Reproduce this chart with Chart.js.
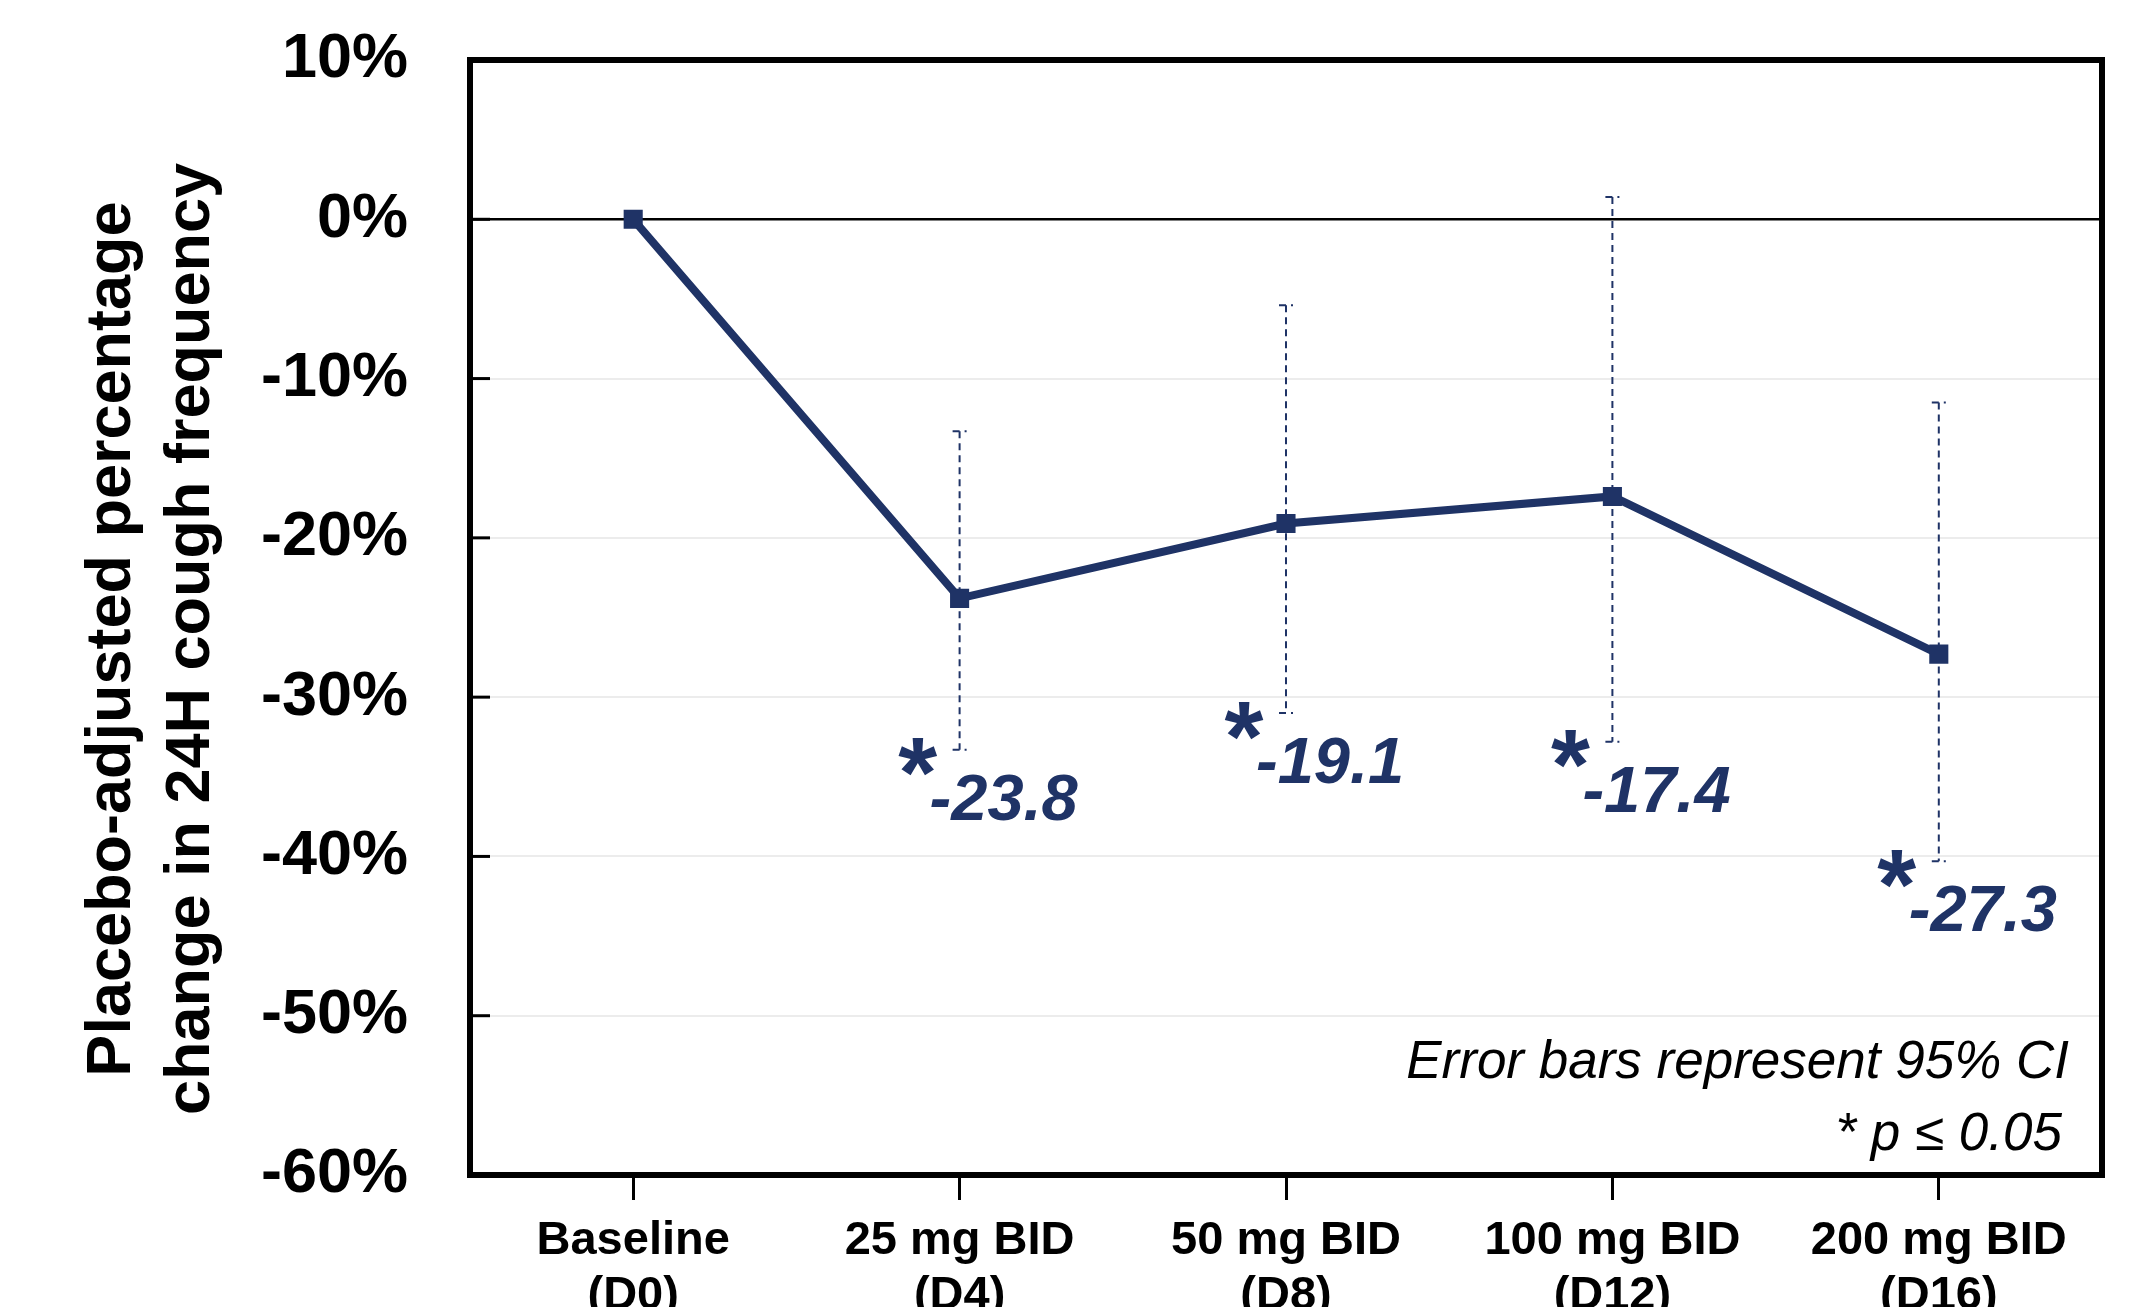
<!DOCTYPE html>
<html>
<head>
<meta charset="utf-8">
<title>Placebo-adjusted cough frequency</title>
<script src="https://cdn.jsdelivr.net/npm/chart.js"></script>
<style>
  body { margin: 0; background: #fff; }
  #wrap { width: 2146px; height: 1307px; }
</style>
</head>
<body>
<div id="wrap"><canvas id="chart"></canvas></div>
<script>
// data
const categories = [["Baseline", "(D0)"], ["25 mg BID", "(D4)"], ["50 mg BID", "(D8)"], ["100 mg BID", "(D12)"], ["200 mg BID", "(D16)"]];
const changePct = [0, -23.8, -19.1, -17.4, -27.3];
const ciLower = [null, -33.3, -31.0, -32.8, -40.3];
const ciUpper = [null, -13.3, -5.4, 1.4, -11.5];
const significant = [false, true, true, true, true];
const yMin = -60, yMax = 10, yStep = 10;
const yTitle = ["Placebo-adjusted percentage", "change in 24H cough frequency"];
const notes = ["Error bars represent 95% CI", "* p \u2264 0.05"];

const NAVY = "#1f3366";
const FONT = "'Liberation Sans', Arial, sans-serif";

const extras = {
  id: "extras",
  beforeDatasetsDraw(chart) {
    const { ctx, scales: { x, y } } = chart;
    ctx.save();
    ctx.strokeStyle = NAVY;
    ctx.lineWidth = 2;
    ctx.setLineDash([7, 5]);
    changePct.forEach((v, i) => {
      if (ciLower[i] == null) return;
      const px = x.getPixelForValue(i);
      const top = y.getPixelForValue(ciUpper[i]);
      const bot = y.getPixelForValue(ciLower[i]);
      ctx.beginPath();
      ctx.moveTo(px, top); ctx.lineTo(px, bot);
      ctx.moveTo(px - 7, top); ctx.lineTo(px + 7, top);
      ctx.moveTo(px - 7, bot); ctx.lineTo(px + 7, bot);
      ctx.stroke();
    });
    ctx.restore();
  },
  afterDraw(chart) {
    const { ctx, chartArea: a, scales: { x, y } } = chart;
    ctx.save();

    // y axis title, two rotated lines
    ctx.fillStyle = "#000";
    ctx.font = "bold 63px " + FONT;
    ctx.textAlign = "center";
    ctx.textBaseline = "middle";
    yTitle.forEach((line, i) => {
      ctx.save();
      ctx.translate(113 + i * 79, 639);
      ctx.rotate(-Math.PI / 2);
      ctx.fillText(line, 0, 0);
      ctx.restore();
    });

    // value labels with significance star, under the lower CI end
    ctx.fillStyle = NAVY;
    changePct.forEach((v, i) => {
      if (!significant[i]) return;
      const px = x.getPixelForValue(i);
      const left = px - 30;
      const cy = y.getPixelForValue(ciLower[i]) + 52;
      ctx.font = "italic bold 65px " + FONT;
      ctx.textAlign = "left";
      ctx.fillText(v.toFixed(1), left, cy);
      ctx.font = "bold 100px " + FONT;
      ctx.textAlign = "center";
      ctx.fillText("*", left - 12, cy - 22);
    });

    // notes, bottom right
    ctx.fillStyle = "#000";
    ctx.font = "italic 53px " + FONT;
    ctx.textAlign = "right";
    ctx.fillText(notes[0], a.right - 33, 1063);
    ctx.fillText(notes[1], a.right - 40, 1135);

    // inside ticks on the y axis
    ctx.strokeStyle = "#000";
    ctx.lineWidth = 3;
    y.ticks.forEach(t => {
      const py = y.getPixelForValue(t.value);
      ctx.beginPath();
      ctx.moveTo(a.left, py);
      ctx.lineTo(a.left + 20, py);
      ctx.stroke();
    });

    // frame
    ctx.lineWidth = 6;
    ctx.strokeRect(a.left, a.top, a.right - a.left, a.bottom - a.top);
    ctx.restore();
  }
};

new Chart(document.getElementById("chart"), {
  type: "line",
  data: {
    labels: categories,
    datasets: [{
      data: changePct,
      borderColor: NAVY,
      borderWidth: 8,
      tension: 0,
      pointStyle: "rect",
      pointRadius: 13.5,
      pointBackgroundColor: NAVY,
      pointBorderWidth: 0
    }]
  },
  options: {
    responsive: true,
    maintainAspectRatio: false,
    devicePixelRatio: 1,
    animation: false,
    layout: { padding: { top: 60, right: 44, left: 0, bottom: 0 } },
    plugins: { legend: { display: false }, tooltip: { enabled: false } },
    scales: {
      x: {
        offset: true,
        border: { display: false },
        grid: { offset: false, drawOnChartArea: false, drawTicks: true, tickLength: 25, color: "#000", lineWidth: 3 },
        ticks: { color: "#000", font: { family: FONT, size: 47, weight: "bold", lineHeight: 1.17 }, padding: 14, maxRotation: 0, autoSkip: false },
        afterFit(s) { s.height = 132; }
      },
      y: {
        min: yMin,
        max: yMax,
        border: { display: false },
        grid: {
          drawTicks: true,
          tickLength: 56,
          tickColor: "transparent",
          color: c => c.tick.value === 0 ? "#000" : "#ececec",
          lineWidth: c => c.tick.value === 0 ? 2.5 : 2
        },
        ticks: {
          stepSize: yStep,
          padding: 6,
          color: "#000",
          font: { family: FONT, size: 63, weight: "bold" },
          callback: v => v + "%"
        },
        afterFit(s) { s.width = 470; }
      }
    }
  },
  plugins: [extras]
});
</script>
</body>
</html>
